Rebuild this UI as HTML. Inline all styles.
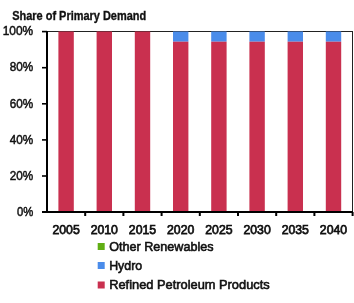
<!DOCTYPE html>
<html><head><meta charset="utf-8"><style>
html,body{margin:0;padding:0;background:#fff;}
svg{display:block;will-change:transform;}
.t{font-family:"Liberation Sans",sans-serif;font-weight:bold;font-size:12.5px;fill:#111;stroke:#111;stroke-width:0.35px;}
.x{font-family:"Liberation Sans",sans-serif;font-size:13px;fill:#111;stroke:#111;stroke-width:0.75px;}
.y{font-family:"Liberation Sans",sans-serif;font-size:13px;fill:#111;stroke:#111;stroke-width:0.5px;}
.l{font-family:"Liberation Sans",sans-serif;font-size:13px;fill:#111;stroke:#111;stroke-width:0.6px;}
</style></head><body>
<svg width="354" height="303" viewBox="0 0 354 303">
<text x="12.2" y="20" class="t" textLength="134" lengthAdjust="spacingAndGlyphs">Share of Primary Demand</text>
<rect x="47" y="31" width="306" height="1" fill="#222"/>
<rect x="352" y="31" width="1" height="181" fill="#222"/>
<rect x="58.40" y="31.5" width="15.4" height="180.5" fill="#C9304F"/>
<rect x="96.60" y="31.5" width="15.4" height="180.5" fill="#C9304F"/>
<rect x="134.80" y="31.5" width="15.4" height="180.5" fill="#C9304F"/>
<rect x="173.00" y="31.5" width="15.4" height="10.2" fill="#4A8CEA"/>
<rect x="173.00" y="41.7" width="15.4" height="170.3" fill="#C9304F"/>
<rect x="211.20" y="31.5" width="15.4" height="10.2" fill="#4A8CEA"/>
<rect x="211.20" y="41.7" width="15.4" height="170.3" fill="#C9304F"/>
<rect x="249.40" y="31.5" width="15.4" height="10.2" fill="#4A8CEA"/>
<rect x="249.40" y="41.7" width="15.4" height="170.3" fill="#C9304F"/>
<rect x="287.60" y="31.5" width="15.4" height="10.2" fill="#4A8CEA"/>
<rect x="287.60" y="41.7" width="15.4" height="170.3" fill="#C9304F"/>
<rect x="325.80" y="31.5" width="15.4" height="10.2" fill="#4A8CEA"/>
<rect x="325.80" y="41.7" width="15.4" height="170.3" fill="#C9304F"/>
<rect x="46" y="31" width="2" height="182" fill="#000"/>
<rect x="42" y="211" width="311" height="2" fill="#000"/>
<rect x="84.20" y="212" width="2" height="4" fill="#000"/><rect x="122.40" y="212" width="2" height="4" fill="#000"/><rect x="160.60" y="212" width="2" height="4" fill="#000"/><rect x="198.80" y="212" width="2" height="4" fill="#000"/><rect x="237.00" y="212" width="2" height="4" fill="#000"/><rect x="275.20" y="212" width="2" height="4" fill="#000"/><rect x="313.40" y="212" width="2" height="4" fill="#000"/><rect x="351.60" y="212" width="2" height="4" fill="#000"/>
<rect x="42" y="30.80" width="5" height="1.6" fill="#000"/>
<text x="33.2" y="35.10" text-anchor="end" class="y" textLength="30.5" lengthAdjust="spacingAndGlyphs">100%</text>
<rect x="42" y="66.90" width="5" height="1.6" fill="#000"/>
<text x="33.2" y="71.35" text-anchor="end" class="y" textLength="23.5" lengthAdjust="spacingAndGlyphs">80%</text>
<rect x="42" y="103.00" width="5" height="1.6" fill="#000"/>
<text x="33.2" y="107.60" text-anchor="end" class="y" textLength="23.5" lengthAdjust="spacingAndGlyphs">60%</text>
<rect x="42" y="139.10" width="5" height="1.6" fill="#000"/>
<text x="33.2" y="143.85" text-anchor="end" class="y" textLength="23.5" lengthAdjust="spacingAndGlyphs">40%</text>
<rect x="42" y="175.20" width="5" height="1.6" fill="#000"/>
<text x="33.2" y="180.10" text-anchor="end" class="y" textLength="23.5" lengthAdjust="spacingAndGlyphs">20%</text>
<rect x="42" y="211.30" width="5" height="1.6" fill="#000"/>
<text x="33.2" y="216.35" text-anchor="end" class="y" textLength="16.3" lengthAdjust="spacingAndGlyphs">0%</text>
<text x="66.10" y="233.8" text-anchor="middle" class="x" textLength="27.3" lengthAdjust="spacingAndGlyphs">2005</text>
<text x="104.30" y="233.8" text-anchor="middle" class="x" textLength="27.3" lengthAdjust="spacingAndGlyphs">2010</text>
<text x="142.50" y="233.8" text-anchor="middle" class="x" textLength="27.3" lengthAdjust="spacingAndGlyphs">2015</text>
<text x="180.70" y="233.8" text-anchor="middle" class="x" textLength="27.3" lengthAdjust="spacingAndGlyphs">2020</text>
<text x="218.90" y="233.8" text-anchor="middle" class="x" textLength="27.3" lengthAdjust="spacingAndGlyphs">2025</text>
<text x="257.10" y="233.8" text-anchor="middle" class="x" textLength="27.3" lengthAdjust="spacingAndGlyphs">2030</text>
<text x="295.30" y="233.8" text-anchor="middle" class="x" textLength="27.3" lengthAdjust="spacingAndGlyphs">2035</text>
<text x="333.50" y="233.8" text-anchor="middle" class="x" textLength="27.3" lengthAdjust="spacingAndGlyphs">2040</text>
<rect x="97.7" y="243" width="7" height="7" fill="#60AE14"/>
<rect x="97.7" y="262" width="7" height="7" fill="#4A8CEA"/>
<rect x="97.7" y="281.5" width="7" height="7" fill="#C9304F"/>
<text x="109.2" y="251" class="l" textLength="104.3" lengthAdjust="spacingAndGlyphs">Other Renewables</text>
<text x="109.2" y="270" class="l" textLength="33" lengthAdjust="spacingAndGlyphs">Hydro</text>
<text x="109.2" y="289" class="l" textLength="160.5" lengthAdjust="spacingAndGlyphs">Refined Petroleum Products</text>
</svg>
</body></html>
